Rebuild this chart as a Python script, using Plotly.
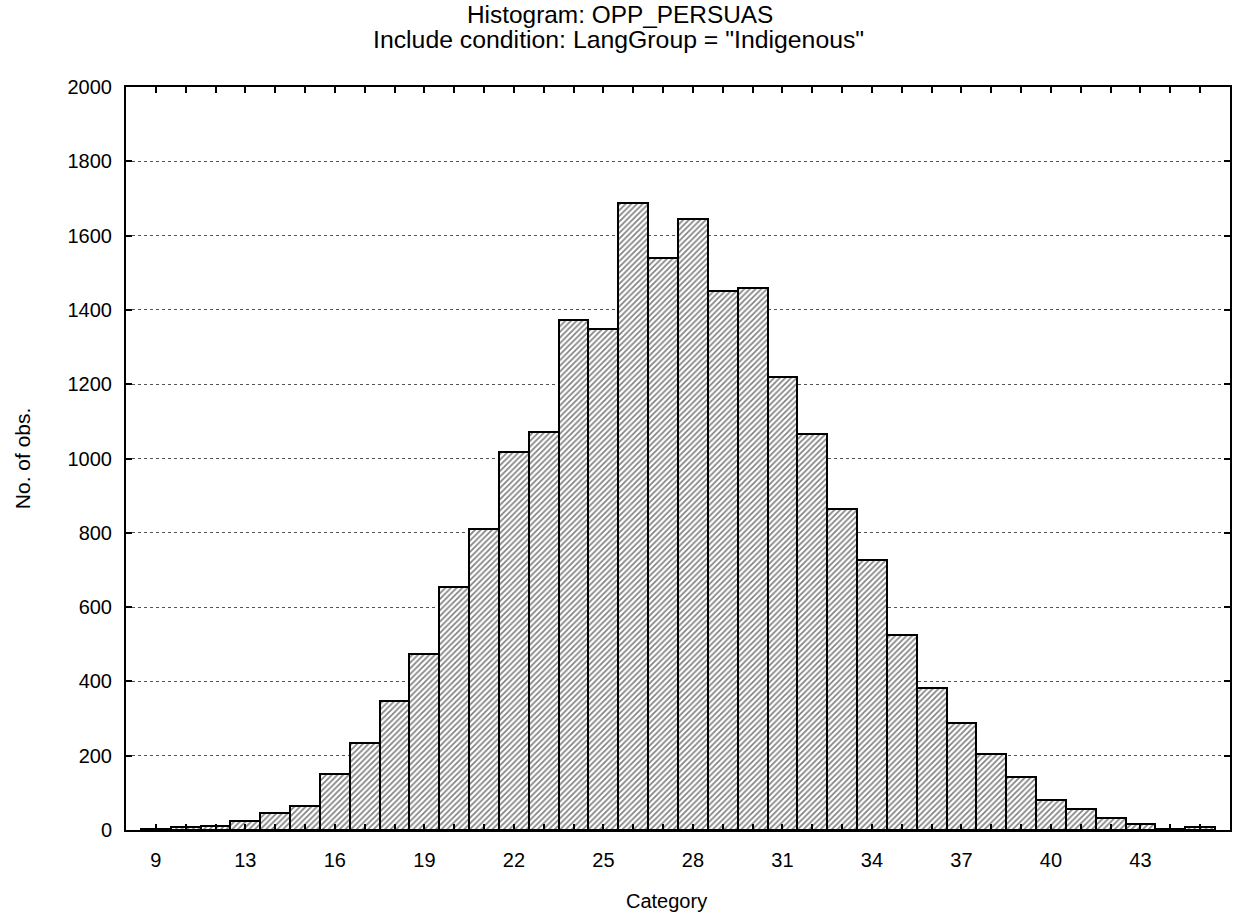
import plotly.graph_objects as go

bar_positions = list(range(1, 37))
counts = [3, 7, 10, 25, 47, 65, 151, 234, 347, 474, 654, 810, 1018, 1071,
          1373, 1348, 1687, 1541, 1646, 1452, 1460, 1220, 1065, 865, 726,
          525, 382, 289, 205, 143, 81, 57, 31, 16, 4, 8]
tick_labels = ["9", "", "", "13", "", "", "16", "", "", "19", "", "",
               "22", "", "", "25", "", "", "28", "", "", "31", "", "",
               "34", "", "", "37", "", "", "40", "", "", "43", "", ""]
y_ticks = list(range(0, 2001, 200))

title_line1 = "Histogram: OPP_PERSUAS"
title_line2 = 'Include condition: LangGroup = "Indigenous"'
x_title = "Category"
y_title = "No. of obs."

FONT = "Liberation Sans, Arial, sans-serif"

W, H = 1236, 922
# plot area in page pixels: 126..1232 x 87..830
PL, PT, PW, PH = 126, 87, 1106, 743


def px(xp):
    return (xp - PL) / PW


def py(yp):
    return (PT + PH - yp) / PH


fig = go.Figure()
fig.add_trace(go.Bar(
    x=bar_positions, y=counts, width=1.0,
    marker=dict(color="white",
                line=dict(color="black", width=2),
                pattern=dict(shape="/", fgcolor="black", bgcolor="white",
                             size=4, solidity=0.4)),
    hoverinfo="x+y", showlegend=False,
))

fig.update_layout(
    width=W, height=H,
    margin=dict(l=PL, r=W - PL - PW, t=PT, b=H - PT - PH),
    paper_bgcolor="white", plot_bgcolor="white",
    font=dict(family=FONT, size=20, color="black"),
    bargap=0,
    xaxis=dict(
        range=[0, 37], tickmode="array", tickvals=bar_positions, ticktext=tick_labels,
        ticks="inside", ticklen=6, tickwidth=1.5, tickcolor="black",
        showline=True, linecolor="black", linewidth=2, mirror="ticks",
        showgrid=False, zeroline=False,
        ticklabelstandoff=11,
    ),
    yaxis=dict(
        range=[0, 2000], tickmode="array", tickvals=y_ticks,
        ticks="inside", ticklen=6, tickwidth=2, tickcolor="black",
        showline=True, linecolor="black", linewidth=2, mirror="ticks",
        showgrid=True, gridcolor="#555555", gridwidth=1, griddash="dot",
        zeroline=False,
        ticklabelstandoff=8,
    ),
    annotations=[
        dict(text=title_line1, xref="paper", yref="paper",
             x=px(621), y=py(14), xanchor="center", yanchor="middle",
             showarrow=False, font=dict(size=24.4)),
        dict(text=title_line2, xref="paper", yref="paper",
             x=px(619), y=py(40), xanchor="center", yanchor="middle",
             showarrow=False, font=dict(size=24.8)),
        dict(text=x_title, xref="paper", yref="paper",
             x=px(667), y=py(901), xanchor="center", yanchor="middle",
             showarrow=False, font=dict(size=20)),
        dict(text=y_title, xref="paper", yref="paper", textangle=-90,
             x=px(22), y=py(458), xanchor="center", yanchor="middle",
             showarrow=False, font=dict(size=21)),
    ],
)

fig.write_html("out.html", config={"displayModeBar": False},
               post_script="document.body.style.margin='0';document.body.style.padding='0';")
